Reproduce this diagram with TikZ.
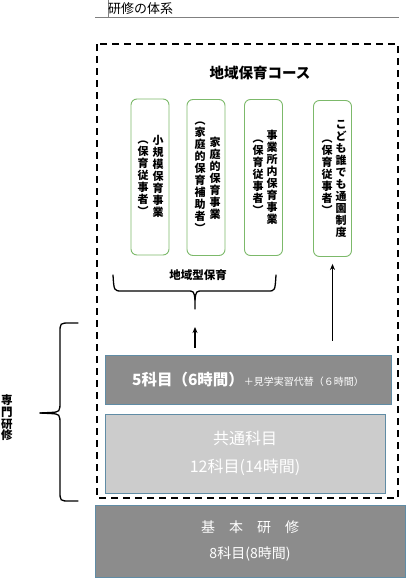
\documentclass[tikz,border=0pt]{standalone}
\usepackage{fontspec}
\setmainfont{Noto Sans CJK JP}
\usepackage{tikz}
\usetikzlibrary{positioning,calc,arrows.meta}
\definecolor{boxgreen}{RGB}{124,185,106}
\definecolor{darkbox}{RGB}{140,140,140}
\definecolor{lightbox}{RGB}{204,204,204}
\definecolor{boxline}{RGB}{96,140,165}

\begin{document}
\begin{tikzpicture}[x=1pt, y=-1pt, >={Stealth[length=6pt,width=5pt]},
  course/.style = {draw=boxgreen, line width=0.9pt, rounded corners=6pt, minimum width=38pt, minimum height=156pt, inner sep=0pt},
  vcol/.style = {align=center, inner sep=0pt, font=\bfseries\fontsize{11}{12}\selectfont},
  grey/.style = {draw=boxline, line width=0.9pt, inner sep=0pt, text=white, align=center},
  curly/.style = {line width=1.3pt, line cap=round},
  frame/.style = {line width=1.6pt, dash pattern=on 7pt off 5pt},
  arr/.style = {->, line width=1.4pt}]

\useasboundingbox (0,0) rectangle (406,579);

% title
\draw[gray, line width=0.8pt] (95,17) -- (399,17);
\draw[gray, line width=0.8pt] (108,0) -- (108,17);
\node[anchor=west, inner sep=0pt, font=\fontsize{13}{13}\selectfont] (title) at (108,9) {研修の体系};

% course frame
\draw[frame] (97,44) rectangle (398,498);
\node[font=\bfseries\fontsize{14.5}{15}\selectfont] (course) at (260,73) {地域保育コース};

\node[course] (c1) at (150,177) {};
\node[course] (c2) at (206,177.5) {};
\node[course] (c3) at (263.5,177.5) {};
\node[course] (c4) at (332.5,178.5) {};

\node[vcol] (c1a) at (158,176) {小\\規\\模\\保\\育\\事\\業};
\node[vcol] (c1b) at (143,178) {︵\\保\\育\\従\\事\\者\\︶};
\node[vcol] (c2a) at (215,178) {家\\庭\\的\\保\\育\\事\\業};
\node[vcol] (c2b) at (200,177) {︵\\家\\庭\\的\\保\\育\\補\\助\\者\\︶};
\node[vcol] (c3a) at (272,177) {事\\業\\所\\内\\保\\育\\事\\業};
\node[vcol] (c3b) at (258,177) {︵\\保\\育\\従\\事\\者\\︶};
\node[vcol] (c4a) at (341,179) {こ\\ど\\も\\誰\\で\\も\\通\\園\\制\\度};
\node[vcol] (c4b) at (327,177) {︵\\保\\育\\従\\事\\者\\︶};

% local type
\node[font=\bfseries\fontsize{11.5}{12}\selectfont] (local) at (198,275) {地域型保育};
\coordinate (brtip) at (195,309);
\draw[curly] (113,275) .. controls (114,291) .. (122,291) -- (187,291) .. controls (194,291) .. (195,300) -- (brtip);
\draw[curly] (276,275) .. controls (275,291) .. (268,291) -- (203,291) .. controls (196,291) .. (195,300);

% steps
\node[grey, fill=darkbox, minimum width=286pt, minimum height=49pt] (five) at (248,379.5)
  {{\bfseries\fontsize{15.5}{15}\selectfont 5科目（6時間）}{\fontsize{10}{10}\selectfont ＋見学実習代替（６時間）}};
\node[grey, fill=lightbox, minimum width=280pt, minimum height=79pt, font=\fontsize{16}{16}\selectfont] (common) at (245,453.5)
  {共通科目\\[12pt]12科目(14時間)};
\node[grey, fill=darkbox, minimum width=310pt, minimum height=72pt, font=\fontsize{14}{14}\selectfont] (basic) at (250,541)
  {基\hspace{1em}本\hspace{1em}研\hspace{1em}修\\[12pt]8科目(8時間)};

\draw[arr] ([yshift=7pt]five.north -| brtip) -- ([yshift=-18pt]brtip);
\draw[arr] ([yshift=14pt]five.north -| c4.south) -- ([yshift=-7pt]c4.south);

% specialist
\draw[curly] (78,323) -- (70,323) .. controls (60,323) .. (60,333) -- (60,401)
  .. controls (60,412) .. (50,412.5) -- (40,413);
\draw[curly] (78,501) -- (70,501) .. controls (60,501) .. (60,491) -- (60,425)
  .. controls (60,414) .. (50,413.5) -- (40,413);
\node[vcol, font=\bfseries\fontsize{11.5}{11.7}\selectfont] (spec) at (7,418) {専\\門\\研\\修};
\end{tikzpicture}
\end{document}
